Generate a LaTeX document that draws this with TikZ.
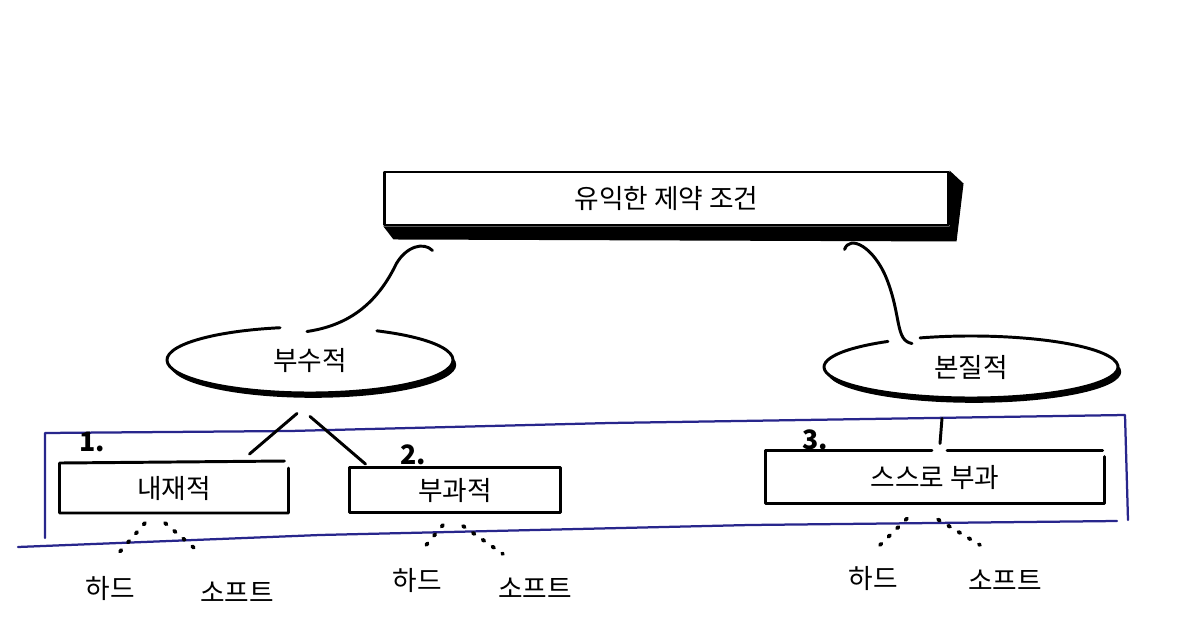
\documentclass[tikz,border=0pt]{standalone}
\usepackage{fontspec}
\setmainfont{Noto Sans CJK KR}
\usepackage{tikz}
\usetikzlibrary{calc}
\usetikzlibrary{shapes.geometric}
\usetikzlibrary{shadows}
\definecolor{penblue}{RGB}{40,38,140}

\begin{document}
\begin{tikzpicture}[x=0.025cm,y=0.025cm,line width=2.1pt,line join=round,
                    line cap=round,every node/.style={font=\fontsize{19}{22}\selectfont},
                    box/.style={rectangle,inner sep=0pt,fill=white},
                    cloud/.style={ellipse,inner sep=0pt,fill=white,
                        drop shadow={shadow xshift=0.08cm,shadow yshift=-0.12cm,opacity=1,fill=black}}]

    \tikzset{
        dots/.style={line width=2.7pt,dash pattern=on 1.5pt off 7pt},
        frame/.style={penblue,line width=1.6pt}
    }

    \fill[white] (0,0) rectangle (1179,-630);
    \useasboundingbox (0,0) rectangle (1179,-630);

    % blue frame round the three kinds
    \draw[frame] (45,-538) -- (45,-433) -- (290,-431) -- (610,-423) -- (1125,-415) -- (1128,-520);
    \draw[frame] (18,-547) -- (320,-535) -- (750,-525) -- (1117,-521);

    \node[box,draw,minimum width=14.075cm,minimum height=1.325cm] (goal) at (666.5,-198.5) {유익한 제약 조건};
    \fill (goal.south west) -- ++(10,-13) -- ($(goal.south east)+(7,-15)$)
        -- ($(goal.north east)+(14,-13)$) -- (goal.north east) -- (goal.south east) -- cycle;

    \node[cloud,minimum width=7.15cm,minimum height=1.65cm] (sub) at (310,-360) {부수적};
    \node[cloud,minimum width=7.35cm,minimum height=1.55cm] (ess) at (971,-367) {본질적};
    \draw ($(sub.center)+(62.1:143 and 33)$) arc[start angle=62.1,end angle=-257.9,x radius=143,y radius=33];
    \draw ($(ess.center)+(110.3:147 and 31)$) arc[start angle=110.3,end angle=-235.6,x radius=147,y radius=31];

    \node[box,minimum width=5.65cm,minimum height=1.175cm] (intr) at (174,-488) {내재적};
    \node[box,draw,minimum width=5.25cm,minimum height=1.125cm] (impo) at (455,-490) {부과적};
    \node[box,minimum width=8.4cm,minimum height=1.25cm] (self) at (935,-477) {스스로 부과};
    \draw ($(intr.north east)+(-4,2)$) -- (intr.north west) -- (intr.south west)
        -- (intr.south east) -- ($(intr.north east)+(0,-5)$);
    \draw ($(self.north)+(-3,0)$) -- (self.north west) -- (self.south west)
        -- (self.south east) -- ($(self.north east)+(0,-6)$);
    \draw ($(self.north)+(12,0)$) -- ($(self.north east)+(-2,0)$);

    \node (one) at (92,-442) {\bfseries 1.};
    \node (two) at (413,-455) {\bfseries 2.};
    \node (three) at (815,-440) {\bfseries 3.};

    \node (hdA) at (110,-588) {하드};
    \node (sfA) at (237,-592) {소프트};
    \node (hdB) at (417,-580) {하드};
    \node (sfB) at (535,-588) {소프트};
    \node (hdC) at (873,-578) {하드};
    \node (sfC) at (1005,-580) {소프트};

    \draw ($(sub.north)+(-3,-6)$) .. controls +(33,5) and +(-23,-48) .. ($(goal.south west)+(13,-37)$)
        .. controls +(10,17) and +(-9,9) .. ($(goal.south west)+(49,-24)$);
    \draw ($(ess.north)+(-59,-9)$) .. controls +(-17,3) and +(15,-38) .. ($(goal.south east)+(-63,-52)$)
        .. controls +(-13,32) and +(5,15) .. ($(goal.south east)+(-105,-23)$);

    \draw ($(sub.south)+(-13,-19)$) -- ($(intr.north east)+(-39,9)$);
    \draw ($(sub.south)+(0,-22)$) -- ($(impo.north west)+(17,2)$);
    \draw ($(ess.south)+(-29,-19)$) -- ($(self.north)+(5,7)$);

    \draw[dots] ($(intr.south)+(-29,-10)$) -- ($(hdA)+(7,33)$);
    \draw[dots] ($(intr.south)+(-9,-10)$) -- ($(sfA)+(-37,39)$);
    \draw[dots] ($(impo.south)+(-12,-11)$) -- ($(hdB)+(5,30)$);
    \draw[dots] ($(impo.south)+(8,-12)$) -- ($(sfB)+(-32,34)$);
    \draw[dots] ($(self.south)+(-28,-15)$) -- ($(hdC)+(7,33)$);
    \draw[dots] ($(self.south)+(3,-16)$) -- ($(sfC)+(-25,35)$);
\end{tikzpicture}
\end{document}
